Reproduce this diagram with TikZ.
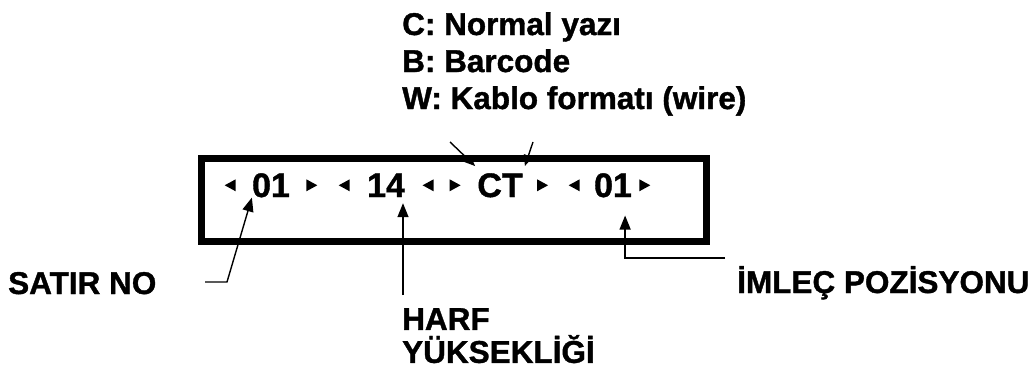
\documentclass[tikz,border=0pt]{standalone}
\usepackage{fontspec}
\setmainfont{Liberation Sans}[BoldFeatures={FakeBold=1.2}]
\usetikzlibrary{shapes.geometric, positioning, arrows.meta}
\tikzset{
    lbl/.style={font=\bfseries\fontsize{31.5}{37}\selectfont, inner sep=0pt, align=left},
    code/.style={font=\bfseries\fontsize{34}{40}\selectfont, inner sep=0pt, anchor=base},
    frame/.style={rectangle, draw=black, line width=7pt, minimum width=505pt, minimum height=82pt, inner sep=0pt},
    trir/.style={isosceles triangle, isosceles triangle stretches, fill=black, inner sep=0pt, minimum width=12pt, minimum height=11pt},
    tril/.style={trir, shape border rotate=180},
    ptr/.style={line width=1.4pt, -{Triangle[length=14pt,width=11pt]}},
    ptrs/.style={line width=1.4pt, -{Triangle[length=11pt,width=9pt]}}
}
\begin{document}
\begin{tikzpicture}[x=1pt, y=-1pt]
        \useasboundingbox (0,0) rectangle (1031,377);
        % Frame and code line
        \node (box) [frame] at (453.5,200) {};
        \node (sat01) [code] at (271,197) {01};
        \node (har14) [code] at (386,197) {14};
        \node (fmtct) [code] at (500,197) {CT};
        \node (pos01) [code] at (613,197) {01};
        \node (t1) [tril, left=16pt of sat01] {};
        \node (t2) [trir, right=16pt of sat01] {};
        \node (t3) [tril, left=17pt of har14] {};
        \node (t4) [tril, right=17pt of har14] {};
        \node (t5) [trir, left=16pt of fmtct] {};
        \node (t6) [trir, right=14pt of fmtct] {};
        \node (t7) [tril, left=14pt of pos01] {};
        \node (t8) [trir, right=7pt of pos01] {};

        % Labels
        \node (legend) [lbl, anchor=north west] at (402,12) {C: Normal yazı\\B: Barcode\\W: Kablo formatı (wire)};
        \node (satir) [lbl, anchor=base west] at (8,294) {SATIR NO};
        \node (harf) [lbl, anchor=north west, font=\bfseries\fontsize{31.5}{33}\selectfont] at (402,308) {HARF\\YÜKSEKLİĞİ};
        \node (imlec) [lbl, anchor=base west] at (737,293) {İMLEÇ POZİSYONU};

        % Arrows
        \coordinate (satirend) at (205,282);
        \coordinate (harfend) at (403,295);
        \coordinate (imlecend) at (725,258);
        \coordinate (cend) at (450,142);
        \coordinate (tend) at (533,142);
        \coordinate (hartip) at ([yshift=-6pt]har14.south);
        \coordinate (postip) at ([xshift=-7pt,yshift=-18pt]pos01.south east);
        \draw [ptr] (satirend) -- ++(22,0) -- (sat01.south west);
        \draw [ptr] (harfend) -- (harfend |- hartip);
        \draw [ptr] (imlecend) -| (postip);
        \draw [ptrs] (cend) -- ([xshift=-2pt,yshift=7pt]fmtct.north west);
        \draw [ptrs] (tend) -- ([xshift=2pt,yshift=7pt]fmtct.north east);
    \end{tikzpicture}
\end{document}
